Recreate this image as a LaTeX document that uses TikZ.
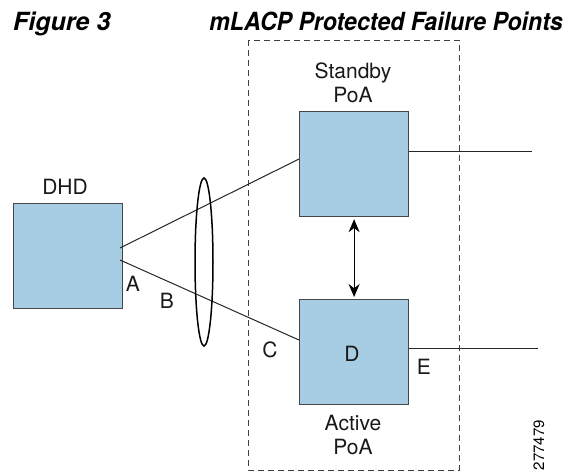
\documentclass[tikz,border=0pt]{standalone}
\usepackage{fontspec}
\setmainfont{TeX Gyre Heros}
\usetikzlibrary{arrows.meta}
\definecolor{boxblue}{RGB}{166,205,228}
\definecolor{boxedge}{RGB}{70,70,70}
\tikzset{
  dev/.style={draw=boxedge, line width=1.2pt, fill=boxblue, minimum width=109pt, minimum height=105pt, inner sep=0pt, anchor=north west},
  lbl/.style={font=\fontsize{21}{24}\selectfont, text=black!90, inner sep=0pt},
  ttlfont/.style={font=\fontsize{25}{27}\selectfont\bfseries\itshape, inner sep=0pt},
  link/.style={line width=1pt, draw=black!85},
}
\begin{document}
\begin{tikzpicture}[x=1pt,y=-1pt]
\useasboundingbox (0,0) rectangle (566,472);
% titles
\node[ttlfont, anchor=base west] (fig) at (13,30) {Figure 3};
\node[ttlfont, anchor=base east] (ttl) at (563,30) {\scalebox{0.925}[1]{mLACP Protected Failure Points}};
% dashed box
\draw[dash pattern=on 6pt off 4pt, line width=1pt, draw=black!75] (248,40) rectangle (459,470);
% devices
\node[dev] (dhd) at (13,203) {};
\node[dev] (sb) at (299,111) {};
\node[dev] (act) at (299,299) {};
% links
\coordinate (d1) at (120,248);
\coordinate (d2) at (120,260);
\coordinate (s1) at (299,159);
\coordinate (a1) at (299,340);
\draw[link] (d1) -- (s1);
\draw[link] (d2) -- (a1);
\coordinate (sbo) at (532,151);
\coordinate (aco) at (538,348);
\draw[link] (sb.east |- sbo) -- (sbo);
\draw[link] (act.east |- aco) -- (aco);
% ellipse
\draw[line width=1.5pt] (204,262) ellipse [x radius=9, y radius=84];
% double arrow
\draw[line width=1.2pt, {Stealth[length=13pt,width=11pt]}-{Stealth[length=13pt,width=11pt]}] (sb.south) ++(0,2) coordinate (ar1) -- (act.north |- 0,297) coordinate (ar2);
% labels
\node[lbl] (ldhd) at (65,187) {DHD};
\node[lbl, align=center] (lsb) at (353,83) {Standby\\PoA};
\node[lbl, align=center] (lact) at (353,435) {Active\\PoA};
\node[lbl] (la) at (133,284) {A};
\node[lbl] (lb) at (167,301) {B};
\node[lbl] (lc) at (270,350) {C};
\node[lbl] (ld) at (352,354) {D};
\node[lbl] (le) at (424,367) {E};
\node[rotate=90, inner sep=0pt, font=\fontsize{15}{16}\selectfont] (num) at (539,445) {277479};
\end{tikzpicture}
\end{document}
